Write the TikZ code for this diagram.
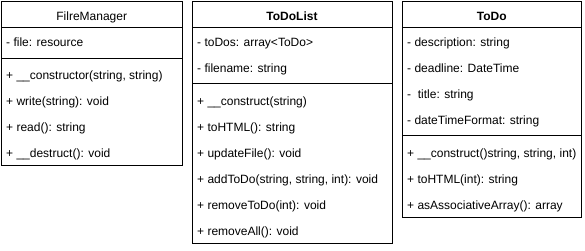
\documentclass[tikz,border=0pt]{standalone}
\usepackage{fontspec}
\setmainfont{Liberation Sans}
\begin{document}
\begin{tikzpicture}[x=1pt,y=-1pt,
  classbox/.style={draw=black, line width=1pt},
  divider/.style={draw=black, line width=1pt},
  member/.style={anchor=base west, inner sep=0pt, font=\fontsize{12}{14}\selectfont},
  classname/.style={anchor=base, inner sep=0pt, font=\fontsize{12}{14}\selectfont},
  boldname/.style={classname, font=\fontsize{12}{14}\selectfont\bfseries}]
\useasboundingbox (0,0) rectangle (585,250);

% FilreManager
\draw[classbox] (1,1) rectangle (182.5,165);
\draw[divider] (1,27.5) -- (182.5,27.5);
\draw[divider] (1,58.5) -- (182.5,58.5);
\node[classname] (fmName) at (91.75,20.5) {FilreManager};
\node[member] (fmFile) at (6,46) {- file: resource};
\node[member] (fmCtor) at (6,79) {+ \_\_constructor(string, string)};
\node[member] (fmWrite) at (6,105) {+ write(string): void};
\node[member] (fmRead) at (6,131) {+ read(): string};
\node[member] (fmDtor) at (6,157) {+ \_\_destruct(): void};

% ToDoList
\draw[classbox] (192,1) rectangle (392,243.5);
\draw[divider] (192,27.5) -- (392,27.5);
\draw[divider] (192,83) -- (392,83);
\node[boldname] (tlName) at (292,20.5) {ToDoList};
\node[member] (tlToDos) at (197,46) {- toDos: array<ToDo>};
\node[member] (tlFile) at (197,72) {- filename: string};
\node[member] (tlCtor) at (197,105) {+ \_\_construct(string)};
\node[member] (tlHtml) at (197,131) {+ toHTML(): string};
\node[member] (tlUpdate) at (197,157) {+ updateFile(): void};
\node[member] (tlAdd) at (197,183) {+ addToDo(string, string, int): void};
\node[member] (tlRemove) at (197,209) {+ removeToDo(int): void};
\node[member] (tlRemoveAll) at (197,235) {+ removeAll(): void};

% ToDo
\draw[classbox] (402,1) rectangle (581.5,217);
\draw[divider] (402,27.5) -- (581.5,27.5);
\draw[divider] (402,135.5) -- (581.5,135.5);
\node[boldname] (tdName) at (491.75,20.5) {ToDo};
\node[member] (tdDesc) at (407,46) {- description: string};
\node[member] (tdDeadline) at (407,72) {- deadline: DateTime};
\node[member] (tdTitle) at (407,98) {-\ \ title: string};
\node[member] (tdFormat) at (407,124) {- dateTimeFormat: string};
\node[member] (tdCtor) at (407,157) {+ \_\_construct()string, string, int)};
\node[member] (tdHtml) at (407,183) {+ toHTML(int): string};
\node[member] (tdArray) at (407,209) {+ asAssociativeArray(): array};
\end{tikzpicture}
\end{document}
